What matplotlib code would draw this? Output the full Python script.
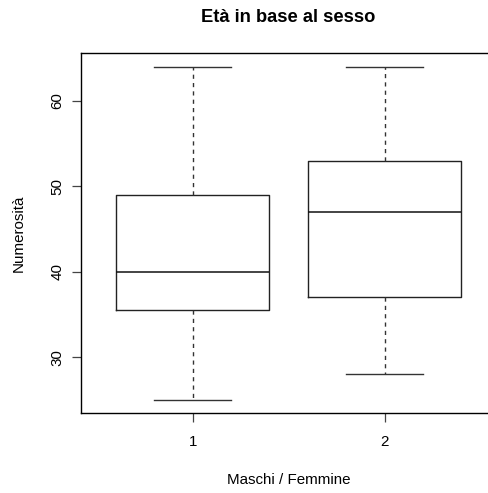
import matplotlib
matplotlib.use("Agg")
import matplotlib.pyplot as plt

# Data
groups = ["1", "2"]
whisker_low = [25, 28]
q1 = [35.5, 37]
medians = [40, 47]
q3 = [49, 53]
whisker_high = [64, 64]
yticks = [30, 40, 50, 60]

plt.rcParams['font.family'] = ['Liberation Sans', 'DejaVu Sans']

W, H = 488, 493
fig = plt.figure(figsize=(W / 100, H / 100), dpi=100)
ax = fig.add_axes([81.3 / W, 1 - 413.3 / H, (496 - 81.3) / W, (413.3 - 53.2) / H])

stats = []
for i in range(len(groups)):
    stats.append(dict(med=medians[i], q1=q1[i], q3=q3[i],
                      whislo=whisker_low[i], whishi=whisker_high[i],
                      fliers=[], label=groups[i]))

positions = list(range(1, len(groups) + 1))
ax.bxp(stats, positions=positions, widths=0.8, showfliers=False,
       boxprops=dict(color='#222222', linewidth=1.0),
       medianprops=dict(color='#111111', linewidth=1.1),
       whiskerprops=dict(color='#333333', linewidth=1.0, linestyle=(0, (3, 3))),
       capprops=dict(color='#333333', linewidth=1.0),
       capwidths=0.4)

lo = min(whisker_low)
hi = max(whisker_high)
ext = (hi - lo) * 0.04
ax.set_ylim(lo - ext, hi + ext)
ax.set_xlim(0.42, 2.58)

ax.set_yticks(yticks)
ax.set_yticklabels([str(t) for t in yticks], rotation=90, va='center')
ax.set_xticks(positions)
ax.set_xticklabels(groups)

for s in ax.spines.values():
    s.set_linewidth(1.0)
    s.set_color('black')

ax.tick_params(axis='both', direction='out', length=6.8, width=0.9,
               color='#444444', labelsize=10.9)
ax.tick_params(axis='x', pad=9)
ax.tick_params(axis='y', pad=5.5)

axc = (81.3 + 496) / 2 / W
fig.text(axc, 1 - 18 / H, "Età in base al sesso", ha='center', va='center',
         fontsize=13.2, fontweight='bold')
fig.text(axc, 1 - 480 / H, "Maschi / Femmine", ha='center', va='center',
         fontsize=10.9)
fig.text(19 / W, 1 - 233 / H, "Numerosità", ha='center', va='center',
         rotation=90, fontsize=10.9)

fig.savefig("out.png", dpi=100)
